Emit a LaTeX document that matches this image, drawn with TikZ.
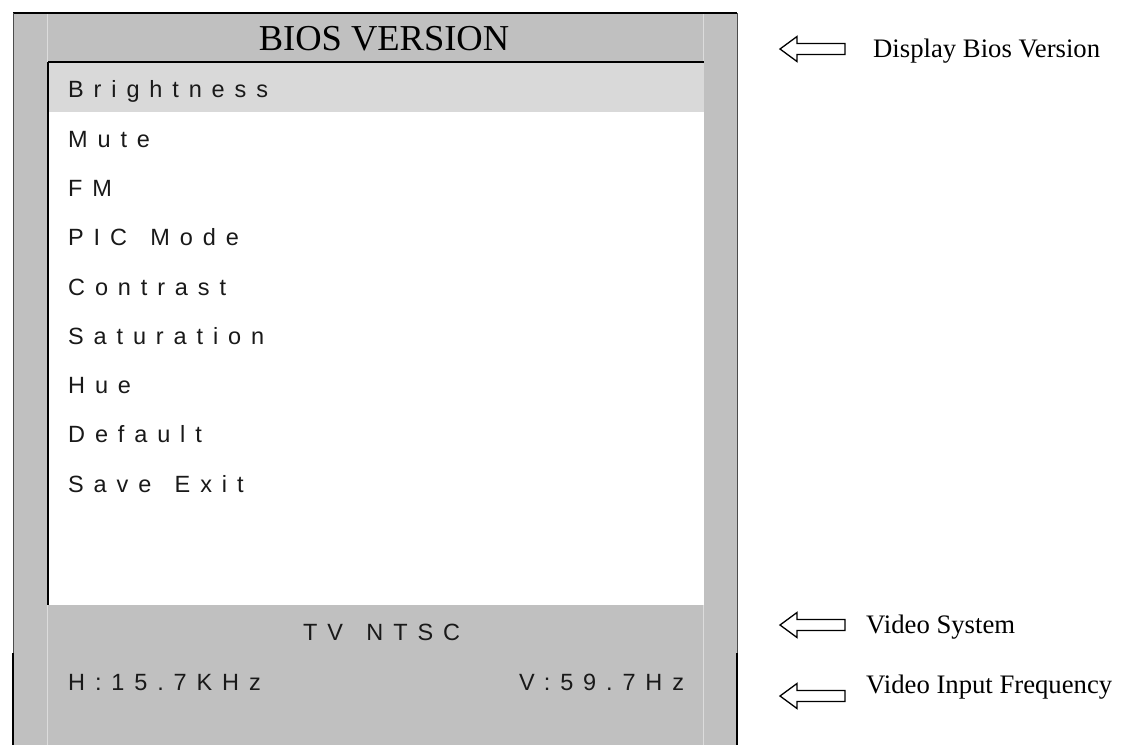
\documentclass[tikz,border=0pt]{standalone}
\usepackage{fontspec}
\setmainfont{Liberation Serif}
\newfontfamily\menufont[LetterSpace=42]{Liberation Sans}
\definecolor{osdgray}{HTML}{C0C0C0}
\definecolor{osdlight}{HTML}{D9D9D9}
\definecolor{osdline}{HTML}{DCDCDC}
\newcommand\wgap{\hspace{7pt}}
\begin{document}
\begin{tikzpicture}[x=1pt,y=-1pt,
  menu/.style={anchor=base west,inner sep=0pt,font=\menufont\fontsize{23.5}{25}\selectfont,text=black!90},
  note/.style={anchor=base west,inner sep=0pt,font=\fontsize{26.7}{28}\selectfont},
  hollowarrow/.style={draw=black,line width=1.3pt,fill=white,line join=miter}]
\useasboundingbox (0,0) rectangle (1135,745);
% panels
\fill[osdgray] (13,13) rectangle (737,745);
\fill[white] (48,62) rectangle (704,605);
\fill[osdlight] (48,62) rectangle (704,112);
% faint separators
\draw[osdline,line width=1pt] (47.5,13) -- (47.5,62) (47.5,605) -- (47.5,745);
\draw[osdline,line width=1pt] (703.5,13) -- (703.5,62) (703.5,605) -- (703.5,745);
% frame
\draw[black,line width=1.5pt] (13,13) -- (737,13);
\draw[black!70,line width=1pt] (13,13) -- (13,653) (737,13) -- (737,653);
\draw[black,line width=2pt] (13,653) -- (13,745) (737,653) -- (737,745);
\draw[black,line width=2pt] (48,62) -- (704,62);
\draw[black,line width=1.5pt] (48,62) -- (48,605);
% title
\node[anchor=base,inner sep=0pt,font=\fontsize{36.5}{38}\selectfont] (title) at (384,50) {BIOS VERSION};
% menu items
\node[menu] (m1) at (68,97) {Brightness};
\node[menu] (m2) at (68,147) {Mute};
\node[menu] (m3) at (68,196) {FM};
\node[menu] (m4) at (68,245.5) {PIC \wgap Mode};
\node[menu] (m5) at (68,295) {Contrast};
\node[menu] (m6) at (68,344) {Saturation};
\node[menu] (m7) at (68,393) {Hue};
\node[menu] (m8) at (68,442) {Default};
\node[menu] (m9) at (68,492) {Save \wgap Exit};
\node[menu] (tv) at (303,640) {TV \wgap NTSC};
\node[menu] (hf) at (68,690) {H:15.7KHz};
\node[menu] (vf) at (519,690) {V:59.7Hz};
% arrows
\foreach \yy/\nm in {49/a1,625/a2,696/a3}{
  \draw[hollowarrow] (780,\yy) -- (797,\yy-12.5) -- (797,\yy-5.5) -- (845,\yy-5.5)
     -- (845,\yy+5.5) -- (797,\yy+5.5) -- (797,\yy+12.5) -- cycle;
}
\node[note] (n1) at (873,57) {Display Bios Version};
\node[note] (n2) at (866,633) {Video System};
\node[note] (n3) at (866,693) {Video Input Frequency};
\end{tikzpicture}
\end{document}
